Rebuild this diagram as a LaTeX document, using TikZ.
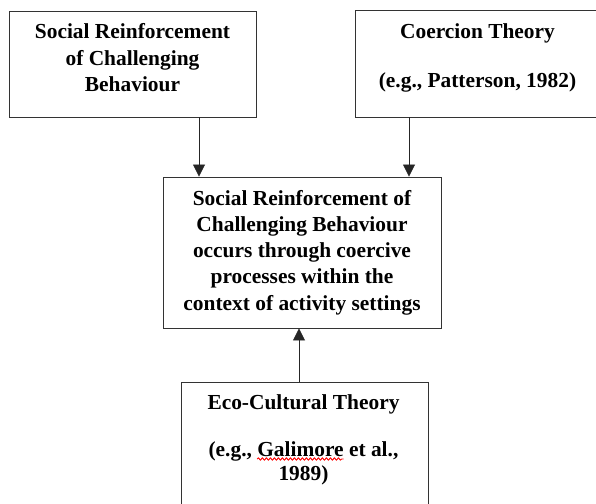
\documentclass[tikz,border=0pt]{standalone}
\usepackage{fontspec}
\setmainfont{Liberation Serif}
\usetikzlibrary{arrows.meta,decorations.pathmorphing}
\newlength\mypre
\newlength\mygal
\newcommand\myfont{\fontsize{21.4}{26}\selectfont\bfseries}
\begin{document}
\settowidth\mypre{\myfont (e.g.,\ }%
\settowidth\mygal{\myfont Galimore}%
\begin{tikzpicture}[x=1pt,y=-1pt,
  box/.style={draw=black!80, line width=0.9pt, inner sep=0pt},
  txt/.style={font=\myfont, inner sep=0pt, anchor=base},
  arr/.style={draw=black!85, line width=0.8pt, -{Triangle[length=12pt,width=12pt]}},
  spell/.style={draw=red, line width=0.9pt, decorate, decoration={snake, amplitude=1.1pt, segment length=4pt}}]
\clip (0,0) rectangle (596,503);
\fill[white] (0,0) rectangle (596,503);
% boxes
\node[box, minimum width=247pt, minimum height=106pt] (b1) at (132.5,64) {};
\node[box, minimum width=245pt, minimum height=107pt] (b2) at (477.5,63.5) {};
\node[box, minimum width=278pt, minimum height=151pt] (c) at (302,252.5) {};
\node[box, minimum width=247pt, minimum height=148pt] (b4) at (304.5,456) {};
% box 1 text
\node[txt] (t1a) at (132.5,39) {Social Reinforcement};
\node[txt] (t1b) at (132.5,65.7) {of Challenging};
\node[txt] (t1c) at (132.5,91.7) {Behaviour};
% box 2 text
\node[txt] (t2a) at (477.5,38) {Coercion Theory};
\node[txt] (t2b) at (477.5,87.3) {(e.g., Patterson, 1982)};
% centre text
\node[txt] (tca) at (302,205) {Social Reinforcement of};
\node[txt] (tcb) at (302,231.5) {Challenging Behaviour};
\node[txt] (tcc) at (302,257.5) {occurs through coercive};
\node[txt] (tcd) at (302,283.5) {processes within the};
\node[txt] (tce) at (302,310) {context of activity settings};
% box 4 text
\node[txt] (t4a) at (303.5,409.3) {Eco-Cultural Theory};
\node[txt] (t4b) at (303.5,456) {(e.g., Galimore et al.,};
\node[txt] (t4c) at (303.5,480) {1989)};
\coordinate (g0) at ([xshift=\mypre, yshift=-3pt]t4b.base west);
\coordinate (g1) at ([xshift=\mygal]g0);
\draw[spell] (g0) -- (g1);
% arrows
\coordinate (x1) at (199,0);
\coordinate (x2) at (409,0);
\coordinate (x3) at (299,0);
\draw[arr] (b1.south -| x1) -- (c.north -| x1);
\draw[arr] (b2.south -| x2) -- (c.north -| x2);
\draw[arr] (b4.north -| x3) -- (c.south -| x3);
\end{tikzpicture}
\end{document}
